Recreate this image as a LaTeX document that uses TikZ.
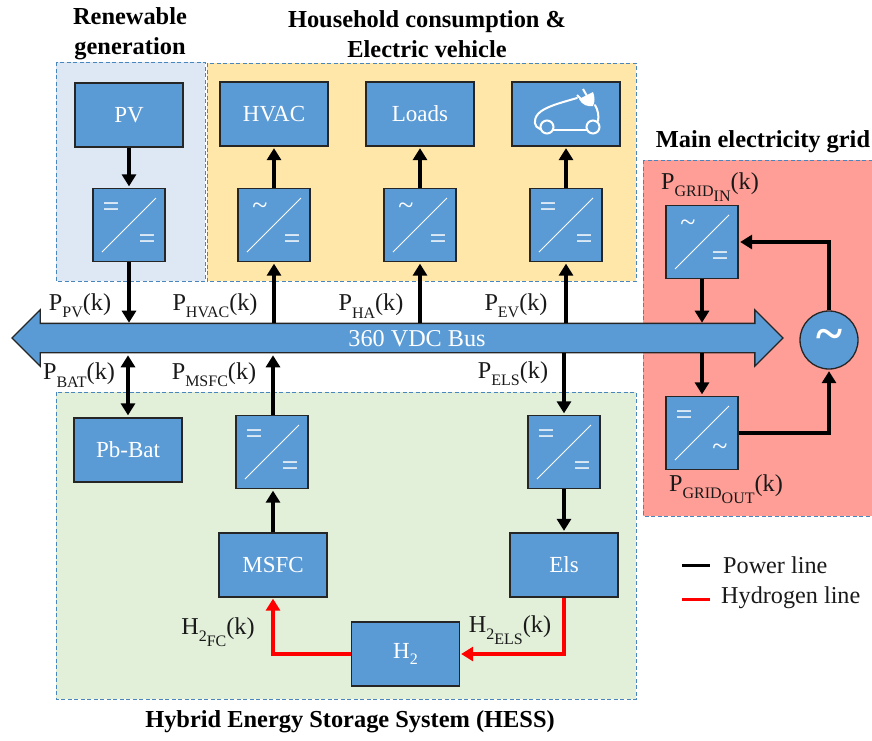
\documentclass[tikz,border=0pt]{standalone}
\usepackage{fontspec}
\setmainfont{Liberation Serif}
\usetikzlibrary{shapes.arrows,arrows.meta}
\definecolor{boxblue}{HTML}{5B9BD5}
\definecolor{dashblue}{HTML}{4A86BE}
\definecolor{pvfill}{HTML}{DEE8F4}
\definecolor{loadfill}{HTML}{FFE6A9}
\definecolor{hessfill}{HTML}{E2EFD9}
\definecolor{gridfill}{HTML}{FF9E96}
\newcommand{\lowsub}[1]{\raisebox{-0.3em}{\fontsize{16}{16}\selectfont #1}}
\newcommand{\smalltilde}{{\fontsize{28}{28}\selectfont\char`\~}}
\newcommand{\toptilde}{\hspace*{8pt}\raisebox{3pt}{\smalltilde}}
\tikzset{
x=1pt,
y=-1pt,
>={Triangle[length=12pt,width=14pt]},
panel/.style={draw=dashblue, line width=1pt, dash pattern=on 4pt off 2.5pt},
block/.style={draw=black!85, line width=1.3pt, fill=boxblue, text=white, inner sep=0pt,
    minimum width=108pt, minimum height=64pt, font=\fontsize{23}{26}\selectfont},
conv/.style 2 args={draw=black!85, line width=1.3pt, fill=boxblue, inner sep=0pt,
    minimum width=72pt, minimum height=73pt,
    path picture={
        \draw[white, line width=1pt] ([xshift=-27pt,yshift=-27pt]path picture bounding box.center)
            -- ([xshift=27pt,yshift=27pt]path picture bounding box.center);
        \node[text=white, font=\fontsize{30}{30}\selectfont, inner sep=0pt]
            at ([xshift=-18pt,yshift=15pt]path picture bounding box.center) {#1};
        \node[text=white, font=\fontsize{30}{30}\selectfont, inner sep=0pt]
            at ([xshift=18pt,yshift=-17pt]path picture bounding box.center) {#2};
    }},
pline/.style={draw=black, line width=4.4pt, shorten >=1.5pt},
hline/.style={draw=red, line width=3.6pt, shorten >=1pt},
title/.style={font=\bfseries\fontsize{24.4}{30}\selectfont, align=center, inner sep=0pt},
lbl/.style={font=\fontsize{24.2}{28}\selectfont, inner sep=0pt, text=black!90},
}

\begin{document}
\begin{tikzpicture}
    \useasboundingbox (0,0) rectangle (872,740);

    % panels
    \fill[pvfill] (56,62) rectangle (205,281);
    \draw[panel] (56,62) rectangle (205,281);
    \fill[loadfill] (207,63) rectangle (636,281);
    \draw[panel] (207,63) rectangle (636,281);
    \fill[hessfill] (56,392) rectangle (636,699);
    \draw[panel] (56,392) rectangle (636,699);
    \fill[gridfill] (643,160) rectangle (873,516);
    \draw[panel] (643,160) rectangle (873,516);

    \node[title] (tRen) at (130,34) {Renewable\\generation};
    \node[title] (tHouse) at (427,34) {Household consumption \&\\Electric vehicle};
    \node[title] (tGrid) at (763,142) {Main electricity grid};
    \node[title] (tHess) at (350,722) {Hybrid Energy Storage System (HESS)};

    % bus
    \node[double arrow, draw=black!85, line width=1.3pt, fill=boxblue, inner xsep=0pt, inner ysep=14pt,
        minimum height=771pt, minimum width=55pt, double arrow head extend=13.5pt] (bus) at (397.5,338) {};
    \node[lbl, text=white] (busT) at (417,339) {360 VDC Bus};

    % blocks
    \node[block] (pv) at (129,115) {PV};
    \node[block] (hvac) at (274,114) {HVAC};
    \node[block] (loads) at (420,114) {Loads};
    \node[block] (ev) at (566,114) {};
    \node[block] (bat) at (128,450) {Pb-Bat};
    \node[block] (msfc) at (273,565) {MSFC};
    \node[block] (els) at (564,565) {Els};
    \node[block] (h2) at (405.5,654) {H\lowsub{2}};

    \node[conv={=}{=}] (cPV) at (129,225) {};
    \node[conv={\toptilde}{=}] (cHVAC) at (274,225) {};
    \node[conv={\toptilde}{=}] (cHA) at (420,225) {};
    \node[conv={=}{=}] (cEV) at (566,225) {};
    \node[conv={=}{=}] (cMSFC) at (272,452) {};
    \node[conv={=}{=}] (cELS) at (564,452) {};
    \node[conv={\toptilde}{=}] (cIN) at (702,242) {};
    \node[conv={=}{\smalltilde}] (cOUT) at (702,433) {};

    \node[circle, draw=black!85, line width=1.3pt, fill=boxblue, text=white, inner sep=0pt,
        minimum size=58pt, font=\bfseries\fontsize{50}{50}\selectfont] (ac) at (829,340) {\raisebox{-6pt}{\char`\~}};

    % car
    \draw[white, line width=2pt] (547,127) circle (6.5);
    \draw[white, line width=2pt] (593,127) circle (6.5);
    \draw[white, line width=2pt, line cap=round] (553,130) -- (587,130);
    \draw[white, line width=2pt, line cap=round] (540,129) .. controls (534,127) and (533,120) .. (538,114)
        .. controls (544,107) and (560,103) .. (577,98);
    \draw[white, line width=2pt, line cap=round] (595,105) .. controls (598,110) and (599,116) .. (598,121);
    \fill[white] (579,99) -- (593,92) .. controls (595,97) and (595,102) .. (593,106) .. controls (588,107) and (582,105) .. (579,99) -- cycle;
    \draw[white, line width=2pt] (587,96) -- (583,89) (581,99) -- (577,95);

    % power lines
    \draw[pline,->] (pv) -- (cPV);
    \draw[pline,->,shorten >=0pt] (cPV) -- (cPV |- bus.north);
    \draw[pline,->] (cHVAC) -- (hvac);
    \draw[pline,->] (cHVAC |- bus.north) -- (cHVAC);
    \draw[pline,->] (cHA) -- (loads);
    \draw[pline,->] (cHA |- bus.north) -- (cHA);
    \draw[pline,->] (cEV) -- (ev);
    \draw[pline,->] (cEV |- bus.north) -- (cEV);
    \draw[pline,<->,shorten <=2pt,shorten >=2pt] (bat |- bus.south) -- (bat);
    \draw[pline,->,shorten >=2pt] (cMSFC.north -| msfc) -- (msfc |- bus.south);
    \draw[pline,->] (msfc) -- (msfc |- cMSFC.south);
    \draw[pline,->] (cELS |- bus.south) -- (cELS);
    \draw[pline,->] (cELS) -- (els);
    \draw[pline,->,shorten >=0pt] (cIN) -- (cIN |- bus.north);
    \draw[pline,->] (cIN |- bus.south) -- (cOUT);
    \draw[pline,->] (ac.north) |- (cIN.east);
    \draw[pline,->] (cOUT.east) -| (ac.south);

    % hydrogen lines
    \draw[hline,->] (h2.west) -| (msfc.south);
    \draw[hline,->] (els.south) |- (h2.east);

    % labels
    \node[lbl] (lPV) at (80,306) {P\lowsub{PV}(k)};
    \node[lbl] (lHVAC) at (215,306) {P\lowsub{HVAC}(k)};
    \node[lbl] (lHA) at (371,306) {P\lowsub{HA}(k)};
    \node[lbl] (lEV) at (516,306) {P\lowsub{EV}(k)};
    \node[lbl] (lBAT) at (79,375) {P\lowsub{BAT}(k)};
    \node[lbl] (lMSFC) at (214,375) {P\lowsub{MSFC}(k)};
    \node[lbl] (lELS) at (513,374) {P\lowsub{ELS}(k)};
    \node[lbl] (lIN) at (710,187) {P\lowsub{GRID\lowsub{IN}}(k)};
    \node[lbl] (lOUT) at (726,489) {P\lowsub{GRID\lowsub{OUT}}(k)};
    \node[lbl] (lFC) at (218,632) {H\lowsub{2\lowsub{FC}}(k)};
    \node[lbl] (lELSH) at (510,630) {H\lowsub{2\lowsub{ELS}}(k)};

    % legend
    \coordinate (legPa) at (682,565);
    \coordinate (legPb) at (710,565);
    \coordinate (legHa) at (682,599);
    \coordinate (legHb) at (710,599);
    \draw[draw=black, line width=3pt] (legPa) -- (legPb);
    \draw[draw=red, line width=3pt] (legHa) -- (legHb);
    \node[lbl, anchor=west] (legP) at (723,565) {Power line};
    \node[lbl, anchor=west] (legH) at (721,598) {Hydrogen line};

\end{tikzpicture}
\end{document}
